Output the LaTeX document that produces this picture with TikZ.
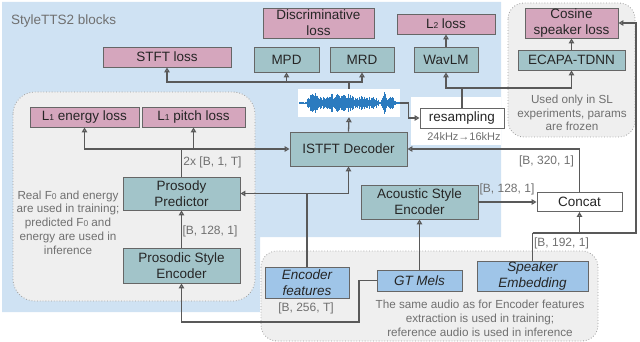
\documentclass[tikz,border=0pt]{standalone}
\usepackage{fontspec}
\setmainfont{Liberation Sans}
\usetikzlibrary{arrows.meta,calc}
\definecolor{bgblue}{HTML}{CFE2F3}
\definecolor{pinkf}{HTML}{D5A6BD}
\definecolor{tealf}{HTML}{A2C4C9}
\definecolor{bluef}{HTML}{9FC5E8}
\definecolor{grayf}{HTML}{EFEFEF}
\definecolor{edge}{HTML}{666666}
\definecolor{linec}{HTML}{595959}
\definecolor{txtg}{HTML}{707070}
\definecolor{wavec}{HTML}{2B7BBF}
\newcommand{\sbs}[1]{{\fontsize{8.5}{8}\selectfont #1}}
\begin{document}
\begin{tikzpicture}[x=1pt,y=-1pt,
 box/.style={draw=edge, line width=0.9pt, inner sep=0pt, align=center, font=\fontsize{13.5}{16}\selectfont, text=black!85},
 pinkbox/.style={box, fill=pinkf},
 tealbox/.style={box, fill=tealf},
 bluebox/.style={box, fill=bluef, font=\fontsize{13.5}{16}\selectfont\itshape},
 whitebox/.style={box, fill=white},
 lbl/.style={font=\fontsize{12}{14}\selectfont, text=txtg, inner sep=0pt},
 note/.style={font=\fontsize{11.7}{13.8}\selectfont, text=txtg, align=center, inner sep=0pt},
 region/.style={fill=grayf, draw=gray!75, dotted, line width=0.8pt, rounded corners=16pt},
 conn/.style={draw=linec, line width=1.3pt},
 arr/.style={conn, -{Triangle[open, length=5pt, width=5.5pt]}},
]
\useasboundingbox (0,0) rectangle (640,342);
% backgrounds
\fill[bgblue] (2,2) -- (501,2) -- (501,237) -- (260,237) -- (260,312) -- (2,312) -- cycle;
\fill[white] (411,97) rectangle (501,145);
\path[region] (508,3) rectangle (635,137);
\path[region, rounded corners=22pt] (13,92) rectangle (255,301);
\path[region] (261,251) rectangle (598,341);

\node[anchor=west, font=\fontsize{13.5}{16}\selectfont, text=txtg, inner sep=0pt] (title) at (11,21) {StyleTTS2 blocks};

% boxes
\node[pinkbox, minimum width=111pt, minimum height=30pt] (disc) at (318.5,23) {Discriminative\\loss};
\node[pinkbox, minimum width=128pt, minimum height=20pt] (stft) at (167,57) {STFT loss};
\node[tealbox, minimum width=65pt, minimum height=25pt] (mpd) at (286.5,59.5) {MPD};
\node[tealbox, minimum width=64pt, minimum height=25pt] (mrd) at (362,59.5) {MRD};
\node[pinkbox, minimum width=98pt, minimum height=20pt] (l2) at (446,24) {L\sbs{2} loss};
\node[tealbox, minimum width=64pt, minimum height=25pt] (wavlm) at (446,59.5) {WavLM};
\node[pinkbox, minimum width=93pt, minimum height=30pt] (cos) at (571.5,23) {Cosine\\speaker loss};
\node[tealbox, minimum width=107pt, minimum height=20pt] (ecapa) at (571.5,60) {ECAPA-TDNN};
\node[whitebox, minimum width=84pt, minimum height=20pt] (resamp) at (462,118) {resampling};
\node[tealbox, minimum width=117pt, minimum height=34pt] (istft) at (348.5,149) {ISTFT Decoder};
\node[pinkbox, minimum width=109pt, minimum height=20pt] (le) at (84.5,117) {L\sbs{1} energy loss};
\node[pinkbox, minimum width=103pt, minimum height=20pt] (lp) at (193.5,117) {L\sbs{1} pitch loss};
\node[tealbox, minimum width=117pt, minimum height=33pt] (pp) at (181.5,193.5) {Prosody\\Predictor};
\node[tealbox, minimum width=117pt, minimum height=35pt] (pse) at (181.5,265.5) {Prosodic Style\\Encoder};
\node[tealbox, minimum width=117pt, minimum height=34pt] (ase) at (419.5,202) {Acoustic Style\\Encoder};
\node[whitebox, minimum width=85pt, minimum height=19pt] (concat) at (579.5,202) {Concat};
\node[bluebox, minimum width=84pt, minimum height=31pt] (enc) at (307,282.5) {Encoder\\features};
\node[bluebox, minimum width=85pt, minimum height=21pt] (gt) at (419.5,280.5) {GT Mels};
\node[bluebox, minimum width=111pt, minimum height=30pt] (spk) at (532.5,276) {Speaker\\Embedding};

% waveform
\node[fill=white, inner sep=0pt, minimum width=102pt, minimum height=28pt] (wave) at (349,103) {};
\pgfmathsetseed{12}
\foreach \i in {0,...,145} {
  \pgfmathsetmacro{\xx}{299+\i*0.7}
  \pgfmathsetmacro{\en}{min(12.5, 1 + 9*max(0,1-((\xx-314)/8)^2) + 5*max(0,1-((\xx-324)/6)^2) + 9*max(0,1-((\xx-335)/9)^2) + 9*max(0,1-((\xx-348)/9)^2) + 6*max(0,1-((\xx-362)/8)^2) + 5*max(0,1-((\xx-373)/7)^2) + 12*max(0,1-((\xx-384)/3)^2) + 6*max(0,1-((\xx-391)/5)^2))}
  \pgfmathsetmacro{\aa}{\en*(0.45+0.55*rnd)}
  \draw[wavec, line width=0.9pt] (\xx,103-\aa) -- (\xx,103+\aa);
}

% coordinates
\coordinate (j1) at (349,82);
\coordinate (j2) at (462,88);
\coordinate (j3) at (181.5,149);
\coordinate (j4) at (307,193.5);
\coordinate (j5) at (359,322);
\coordinate (j6) at (532.5,233);
\coordinate (j7) at (636,233);

% connectors
\draw[arr] (istft.north) -- (wave.south);
\draw[conn] (wave.north) -- (j1);
\draw[arr] (j1) -| (stft.south);
\draw[arr] (j1) -| (mpd.south);
\draw[arr] (j1) -| (mrd.south);
\draw[arr] (wave.east) -- ++(8,0) |- (resamp.west);
\draw[conn] (resamp.north) -- (j2);
\draw[arr] (j2) -| (wavlm.south);
\draw[arr] (j2) -| (ecapa.south);
\draw[arr] (wavlm.north) -- (l2.south);
\draw[arr] (ecapa.north) -- (cos.south);
\draw[conn] (pp.north) -- (j3);
\draw[arr] (j3) -| (le.south);
\draw[arr] (j3) -| (lp.south);
\draw[arr] (j3) -- (istft.west);
\draw[arr] (pse.north) -- (pp.south);
\draw[conn] (enc.north) -- (j4);
\draw[arr] (j4) -- (pp.east);
\draw[arr] (j4) -| (istft.south);
\draw[arr] (gt.west) -| (j5) -| (pse.south);
\draw[arr] (gt.north) -- (ase.south);
\draw[arr] (ase.east) -- (concat.west);
\draw[conn] (spk.north) -- (j6);
\draw[arr] (j6) -| (concat.south);
\draw[arr] (j6) -- (j7) |- (cos.east);
\draw[arr] (concat.north) |- (istft.east);

% labels
\node[lbl] (l1) at (212.5,162) {2x [B, 1, T]};
\node[lbl] (l2b) at (210,231) {[B, 128, 1]};
\node[lbl] (l3) at (507,189) {[B, 128, 1]};
\node[lbl] (l4) at (546.5,161) {[B, 320, 1]};
\node[lbl] (l5) at (561.5,243) {[B, 192, 1]};
\node[lbl] (l6) at (306,308) {[B, 256, T]};
\node[lbl, font=\fontsize{11}{13}\selectfont] (l7) at (464,137) {24kHz→16kHz};

% notes
\node[note] (n1) at (572,113) {Used only in SL\\experiments, params\\are frozen};
\node[note] (n2) at (68,222.5) {Real F\sbs{0} and energy\\are used in training;\\predicted F\sbs{0} and\\energy are used in\\inference};
\node[note] (n3) at (480,318.5) {The same audio as for Encoder features\\extraction is used in training;\\reference audio is used in inference};
\end{tikzpicture}
\end{document}
